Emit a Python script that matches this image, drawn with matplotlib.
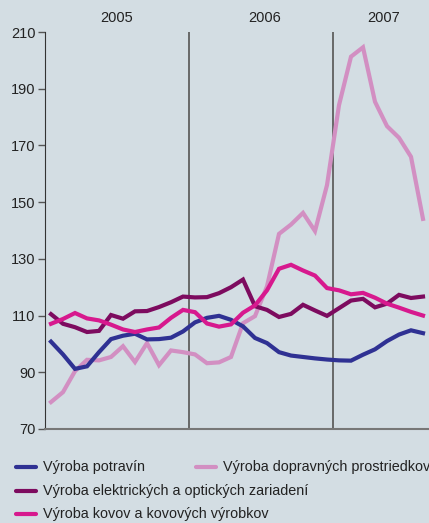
import numpy as np
import matplotlib
matplotlib.use('Agg')
import matplotlib.pyplot as plt
from matplotlib.lines import Line2D

plt.rcParams['font.family'] = ['Liberation Sans', 'DejaVu Sans']

# monthly index values, Jan 2005 - Aug 2007
potraviny = [100.8, 96.3, 91.2, 92.1, 97.1, 101.7, 102.9, 103.6, 101.6, 101.7, 102.2, 104.4,
             107.6, 109.2, 109.9, 108.5, 106.2, 102.1, 100.3, 97.1, 95.9, 95.4, 94.9, 94.5,
             94.2, 94.1, 96.2, 98.1, 101.0, 103.3, 104.8, 103.8]
elektro = [110.5, 107.1, 105.9, 104.2, 104.6, 110.2, 108.9, 111.5, 111.6, 113.0, 114.7, 116.7,
           116.4, 116.5, 117.9, 120.0, 122.7, 113.3, 112.0, 109.5, 110.6, 113.8, 111.8, 109.9,
           112.6, 115.3, 115.9, 112.9, 114.2, 117.3, 116.2, 116.7]
kovy = [107.1, 108.8, 110.9, 109.0, 108.3, 106.8, 105.1, 104.2, 105.1, 105.8, 109.2, 112.0,
        111.2, 107.2, 106.1, 106.9, 111.0, 113.6, 118.9, 126.5, 127.9, 125.9, 124.1, 119.7,
        118.9, 117.5, 118.0, 116.3, 114.2, 112.8, 111.3, 110.0]
doprava = [79.5, 83.0, 90.4, 94.4, 94.2, 95.4, 99.2, 93.6, 100.3, 92.5, 97.7, 97.1,
           96.3, 93.2, 93.5, 95.4, 107.3, 109.8, 120.3, 138.8, 142.1, 146.2, 139.8, 156.0,
           184.2, 201.3, 204.6, 185.4, 176.8, 172.7, 166.0, 144.1]

years = ['2005', '2006', '2007']
year_pos = [6, 18.3, 28.2]
yticks = [70, 90, 110, 130, 150, 170, 190, 210]

labels = ['Výroba potravín', 'Výroba elektrických a optických zariadení',
          'Výroba kovov a kovových výrobkov', 'Výroba dopravných prostriedkov']
colors = ['#2f3193', '#7d0b5f', '#d7198e', '#d28fc2']

bg = '#d3dde3'
fig = plt.figure(figsize=(4.29, 5.23), dpi=100, facecolor=bg)
ax = fig.add_axes([45/429, 94/523, 384/429, 397/523], facecolor=bg)

x = np.arange(len(potraviny)) + 0.5
for y in [12, 24]:
    ax.axvline(y, color='#5f5f5f', lw=1.3, zorder=1)
for s, c in zip([doprava, potraviny, elektro, kovy], [colors[3], colors[0], colors[1], colors[2]]):
    ax.plot(x, s, color=c, lw=3, solid_joinstyle='miter', zorder=3)

ax.set_xlim(0, 32)
ax.set_ylim(70, 210)
ax.set_yticks(yticks)
ax.set_xticks([])
ax.tick_params(axis='y', direction='out', length=5, width=1, color='#555555',
               labelsize=10.5, labelcolor='#222222', pad=2)
for sp in ['top', 'right']:
    ax.spines[sp].set_visible(False)
ax.spines['left'].set_color('#333333')
ax.spines['bottom'].set_color('#777777')
ax.spines['bottom'].set_linewidth(1.5)

for yr, p in zip(years, year_pos):
    ax.text(p, 1.035, yr, transform=ax.get_xaxis_transform(), ha='center', va='center',
            fontsize=10.5, color='#222222')

# legend, drawn by hand
W, H = 429, 523
entries = [(16, 467, 0), (16, 491, 1), (16, 514, 2), (196, 467, 3)]
for px, py, k in entries:
    fig.add_artist(Line2D([px/W, (px+20)/W], [1-py/H, 1-py/H], color=colors[k], lw=3,
                          solid_capstyle='round', transform=fig.transFigure))
    fig.text((px+27)/W, 1-py/H, labels[k], ha='left', va='center', fontsize=10.4, color='#222222')

fig.savefig('out.png', dpi=100, facecolor=bg)
